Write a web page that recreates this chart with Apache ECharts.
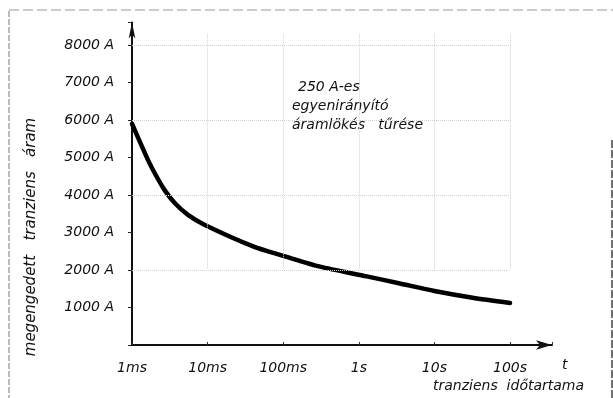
<!DOCTYPE html>
<html>
<head>
<meta charset="utf-8">
<script src="https://cdn.jsdelivr.net/npm/echarts@6/dist/echarts.min.js"></script>
<style>
html,body{margin:0;padding:0;background:#fff;}
#c{width:613px;height:398px;}
</style>
</head>
<body>
<div id="c"></div>
<script>
// Data
const times = [0.001, 0.00133, 0.00163, 0.002, 0.0027, 0.0037, 0.0055, 0.0092, 0.04, 0.111, 0.307, 1.27, 3.5, 10, 32, 100]; // seconds
const current = [5900, 5330, 4930, 4580, 4130, 3780, 3470, 3200, 2630, 2350, 2090, 1830, 1640, 1440, 1260, 1120]; // A
const xTickValues = [0.001, 0.01, 0.1, 1, 10, 100];
const xTickLabels = ['1ms', '10ms', '100ms', '1s', '10s', '100s'];
const yTickStep = 1000;
const yGridValues = [2000, 4000, 6000, 8000];

const FONT = 'DejaVu Sans';
const chart = echarts.init(document.getElementById('c'), null, {renderer: 'canvas'});

const seriesData = times.map((t, i) => [t, current[i]]);

function xLabel(v) {
  for (let i = 0; i < xTickValues.length; i++) {
    if (Math.abs(Math.log10(v) - Math.log10(xTickValues[i])) < 1e-6) return xTickLabels[i];
  }
  return '';
}

const vLines = xTickValues.slice(1).map(v => [{coord: [v, 8300]}, {coord: [v, 2000]}]);
const hLines = yGridValues.map(v => [{coord: [0.001, v]}, {coord: [100, v]}]);

chart.setOption({
  animation: false,
  backgroundColor: '#fff',
  grid: {left: 132, right: 61, top: 22.5, bottom: 53, containLabel: false},
  xAxis: {
    type: 'log', logBase: 10, min: 0.001, max: 359,
    axisLine: {show: true, lineStyle: {color: '#111', width: 2}, symbol: ['none', 'arrow'], symbolSize: [7, 16], symbolOffset: [0, 0]},
    axisTick: {show: true, length: 3, inside: true, lineStyle: {color: '#333'}},
    splitLine: {show: false},
    minorTick: {show: false},
    axisLabel: {
      formatter: xLabel, margin: 16, color: '#111',
      fontFamily: FONT, fontStyle: 'italic', fontSize: 14
    }
  },
  yAxis: {
    type: 'value', min: 0, max: 8600, interval: yTickStep,
    axisLine: {show: true, lineStyle: {color: '#111', width: 2}, symbol: ['none', 'arrow'], symbolSize: [5, 16]},
    axisTick: {show: true, length: 4, lineStyle: {color: '#222'}},
    splitLine: {show: false},
    axisLabel: {
      formatter: v => (v > 0 && v <= 8000) ? v + ' A' : '',
      margin: 18, color: '#111',
      fontFamily: FONT, fontStyle: 'italic', fontSize: 14
    }
  },
  series: [{
    type: 'line',
    data: seriesData,
    smooth: 0.25,
    showSymbol: false,
    lineStyle: {color: '#000', width: 4.5, join: 'round', cap: 'round'},
    markLine: {
      silent: true, symbol: 'none', label: {show: false},
      lineStyle: {color: '#d0d0d0', width: 1, type: 'dotted'},
      data: vLines.concat(hLines)
    }
  }],
  graphic: [
    {type: 'line', shape: {x1: 9, y1: 11, x2: 9, y2: 398}, style: {stroke: '#777', lineWidth: 1, lineDash: [6, 2]}},
    {type: 'line', shape: {x1: 9, y1: 10, x2: 613, y2: 10}, style: {stroke: '#999', lineWidth: 1, lineDash: [10, 4]}},
    {type: 'line', shape: {x1: 612, y1: 140, x2: 612, y2: 398}, style: {stroke: '#444', lineWidth: 1.5, lineDash: [8, 2]}},
    {type: 'text', left: 562, top: 358, style: {text: 't', font: 'italic 14px "DejaVu Sans"', fill: '#111'}},
    {type: 'text', left: 433, top: 379, style: {text: 'tranziens  időtartama', font: 'italic 14px "DejaVu Sans"', fill: '#111'}},
    {type: 'text', x: 31, y: 237, rotation: Math.PI / 2,
      style: {text: 'megengedett   tranziens   áram', font: 'italic 15px "DejaVu Sans"', fill: '#111', align: 'center', verticalAlign: 'middle'}},
    {type: 'text', left: 298, top: 80, style: {text: '250 A-es', font: 'italic 14px "DejaVu Sans"', fill: '#111'}},
    {type: 'text', left: 292, top: 99, style: {text: 'egyenirányító', font: 'italic 14px "DejaVu Sans"', fill: '#111'}},
    {type: 'text', left: 292, top: 118, style: {text: 'áramlökés   tűrése', font: 'italic 14px "DejaVu Sans"', fill: '#111'}}
  ]
});
</script>
</body>
</html>
